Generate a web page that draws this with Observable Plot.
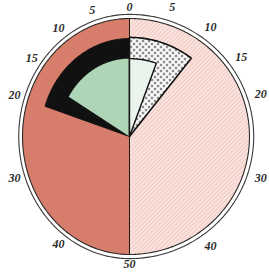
<!DOCTYPE html>
<html>
<head>
<meta charset="utf-8">
<script src="https://cdn.jsdelivr.net/npm/d3@7"></script>
<script src="https://cdn.jsdelivr.net/npm/@observablehq/plot@0.6"></script>
<style>
  html, body { margin: 0; padding: 0; background: #ffffff; }
</style>
</head>
<body>
<div id="chart"></div>
<script>
// ---- data (scale units: 0–50 on each half, 100 = full circle) ----
const sectorNames  = ["Left half", "Right half", "Black band", "Green", "Dotted", "Pale"];
const sectorSide   = [-1, 1, -1, -1, 1, 1];      // -1 = left of the divider, 1 = right
const sectorEnd    = [50, 50, 20, 16.5, 10.5, 5.5];
const sectorRadius = [1, 1, 0.83, 0.66, 0.84, 0.66];

const tickValues = [5, 10, 15, 20, 30, 40];
const tickLabels = ["5", "10", "15", "20", "30", "40"];
const endValues  = [0, 50];
const endLabels  = ["0", "50"];

// ---- helpers: scale value -> polar -> plane (value 100 = 360°) ----
function polar(v, r, side) {
  const t = v * 3.6 * Math.PI / 180;
  return {x: side * r * Math.sin(t), y: r * Math.cos(t)};
}
function sectorPath(i) {
  const pts = [{x: 0, y: 0}];
  const end = sectorEnd[i];
  const n = Math.max(2, Math.ceil(end / 0.25));
  for (let k = 0; k <= n; ++k) pts.push(polar(end * k / n, sectorRadius[i], sectorSide[i]));
  pts.push({x: 0, y: 0});
  return pts;
}
function ring(r) {
  const pts = [];
  for (let k = 0; k <= 400; ++k) pts.push(polar(k / 4, r, 1));
  return pts;
}

const sectorStyle = {
  "Left half":  {fill: "#d77d6c", stroke: "none"},
  "Right half": {fill: "url(#hatch)", stroke: "none"},
  "Black band": {fill: "#111111", stroke: "#111111", strokeWidth: 1},
  "Green":      {fill: "#aed6b6", stroke: "none"},
  "Dotted":     {fill: "url(#dots)", stroke: "#111111", strokeWidth: 1.6},
  "Pale":       {fill: "#eaf4ec", stroke: "#111111", strokeWidth: 1.4}
};

const labels = [];
tickValues.forEach((v, i) => {
  labels.push({...polar(v, 1.13, -1), label: tickLabels[i]});
  labels.push({...polar(v, 1.15, 1), label: tickLabels[i]});
});
labels.push({...polar(endValues[0], 1.095, 1), label: endLabels[0]});
labels.push({...polar(endValues[1], 1.085, 1), label: endLabels[1]});

const marks = sectorNames.map((name, i) =>
  Plot.line(sectorPath(i), {x: "x", y: "y", curve: "linear", strokeLinejoin: "miter", ...sectorStyle[name]})
);
marks.push(
  Plot.ruleX([0], {y1: -1, y2: 1, stroke: "#1a1a1a", strokeWidth: 1}),
  Plot.line(ring(1), {x: "x", y: "y", stroke: "#2a2a2a", strokeWidth: 1.1}),
  Plot.line(ring(1.035), {x: "x", y: "y", stroke: "#3a3a3a", strokeWidth: 1.1}),
  Plot.text(labels, {x: "x", y: "y", text: "label", fontSize: 12, fontStyle: "italic", fontWeight: "bold",
    fontFamily: "Liberation Serif", fill: "#2b2b2b"})
);

const chart = Plot.plot({
  width: 269,
  height: 273,
  margin: 0,
  x: {type: "linear", domain: [-1, 0, 1], range: [22, 129, 249], axis: null},
  y: {type: "linear", domain: [-1, 1], range: [254, 18], axis: null},
  marks
});

chart.insertAdjacentHTML("afterbegin", `
<defs>
  <pattern id="hatch" width="3" height="3" patternUnits="userSpaceOnUse" patternTransform="rotate(45)">
    <rect width="3" height="3" fill="#fae4df"></rect>
    <line x1="0.5" y1="0" x2="0.5" y2="3" stroke="#f0c6bd" stroke-width="0.9"></line>
  </pattern>
  <pattern id="dots" width="6" height="6" patternUnits="userSpaceOnUse">
    <rect width="6" height="6" fill="#ffffff"></rect>
    <circle cx="1.5" cy="1.5" r="1" fill="#111"></circle>
    <circle cx="4.5" cy="4.5" r="1" fill="#111"></circle>
  </pattern>
</defs>`);

document.getElementById("chart").appendChild(chart);
</script>
</body>
</html>
